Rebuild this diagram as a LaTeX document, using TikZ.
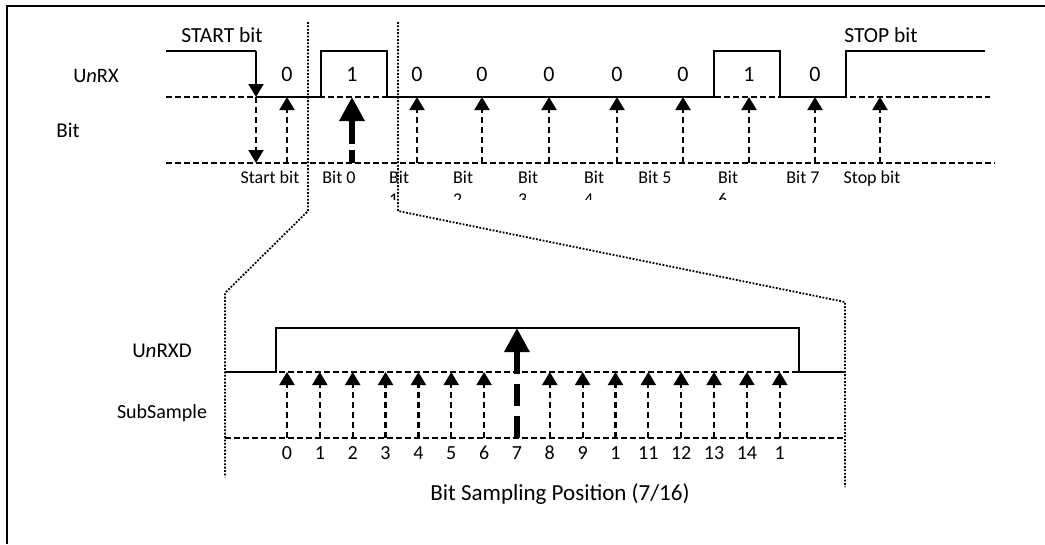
\documentclass[tikz,border=0pt]{standalone}
\usepackage{fontspec}
\setmainfont{Carlito}
\usetikzlibrary{arrows.meta}

\begin{document}
\begin{tikzpicture}[x=1pt,y=-1pt,
  wave/.style={line width=2pt},
  dashline/.style={line width=1.7pt,dash pattern=on 6pt off 3pt},
  samp/.style={line width=2.2pt,dash pattern=on 6pt off 4pt,-{Triangle[length=13pt,width=15pt]}},
  bigsamp/.style={line width=6.5pt,-{Triangle[length=24pt,width=24pt]}},
  zoomline/.style={line width=1.8pt,dash pattern=on 1.8pt off 1.6pt},
  lab/.style={font=\fontsize{20}{24}\selectfont,inner sep=0pt},
  small/.style={font=\fontsize{18}{22}\selectfont,inner sep=0pt}]
\useasboundingbox (0,0) rectangle (1045,544);
\draw[line width=2pt] (1045,6) -| (7,544);
% row labels
\node[lab,anchor=base,font=\fontsize{20.5}{24}\selectfont] (rx) at (96,82) {U\textit{n}RX};
\node[lab,anchor=base,font=\fontsize{21}{24}\selectfont] (bit) at (68,137) {Bit};
\node[lab,anchor=base,font=\fontsize{21.5}{24}\selectfont] (start) at (222,42) {START bit};
\node[lab,anchor=base,font=\fontsize{21.5}{24}\selectfont] (stop) at (881,42) {STOP bit};
% UnRX frame
\draw[dashline] (166,97) -- (990,97);
\draw[dashline] (166,163) -- (995,163);
\draw[wave] (166,51) -- (256,51);
\draw[wave,-{Triangle[length=13pt,width=15pt]}] (256,51) -- (256,97);
\draw[wave] (256,97) -- (321,97) |- (387,51) |- (714,97) |- (780,51) |- (846,97) |- (985,51);
\draw[samp] (256,97) -- (256,163);
\foreach \xx in {287,417,482,549,617,683,749,815,880}
  \draw[samp] (\xx,163) -- (\xx,97);
\draw[bigsamp,dash pattern=on 13pt off 6pt on 30pt off 0pt] (352,163) -- (352,97);
\foreach \xx/\vv in {287/0,352/1,417/0,482/0,549/0,617/0,683/0,749/1,815/0}
  \node[lab,anchor=base,font=\fontsize{22}{24}\selectfont] at (\xx,81) {\vv};
% bit names
\node[small,anchor=base] (b-s) at (270,183) {Start bit};
\node[small,anchor=base] (b-0) at (339,183) {Bit 0};
\node[small,anchor=base] (b-5) at (655,183) {Bit 5};
\node[small,anchor=base] (b-7) at (803,183) {Bit 7};
\node[small,anchor=base] (b-p) at (872,183) {Stop bit};
\begin{scope}
  \clip (370,165) rectangle (760,199);
  \foreach \xx/\nn in {389/1,453/2,518/3,584/4,718/6}
    \node[small,anchor=north west,align=left] at (\xx,171) {Bit\\\nn};
\end{scope}
% zoom lines
\draw[zoomline] (308,22) -- (308,211) -- (225,293) -- (225,477);
\draw[zoomline] (398,22) -- (398,211) -- (845,302) -- (845,487);
% UnRXD frame
\node[lab,anchor=base,font=\fontsize{21}{24}\selectfont] (rxd) at (162,357) {U\textit{n}RXD};
\node[lab,anchor=base] (sub) at (162,418) {SubSample};
\draw[dashline] (225,372) -- (845,372);
\draw[dashline] (225,438) -- (845,438);
\draw[wave] (225,372) -| (276,328) -| (799,372) -- (845,372);
\foreach \i/\tt in {0/0,1/1,2/2,3/3,4/4,5/5,6/6,7/7,8/8,9/9,10/1,11/11,12/12,13/13,14/14,15/1} {
  \pgfmathsetmacro\xx{287+32.85*\i}
  \ifnum\i=7
    \draw[bigsamp,dash pattern=on 22pt off 10pt] (\xx,438) -- (\xx,328);
  \else
    \draw[samp] (\xx,438) -- (\xx,372);
  \fi
  \node[small,anchor=base,font=\fontsize{20}{22}\selectfont] at (\xx,459) {\tt};
}
\node[small,anchor=base,font=\fontsize{23}{26}\selectfont] (pos) at (560,500) {Bit Sampling Position (7/16)};
\end{tikzpicture}
\end{document}
